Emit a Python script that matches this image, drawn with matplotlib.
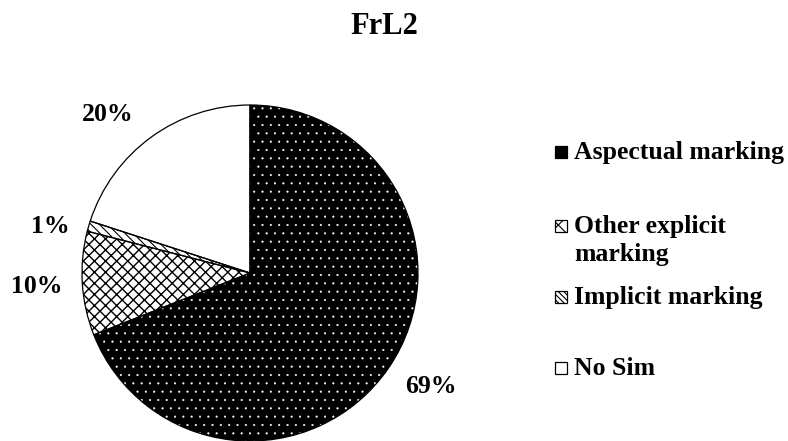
import numpy as np
import matplotlib.pyplot as plt
from matplotlib.patches import Rectangle

# Share of each marking type (FrL2 group)
categories = ["Aspectual marking", "Other explicit\nmarking", "Implicit marking", "No Sim"]
shares = [69, 10, 1, 20]
pct_labels = ["69%", "10%", "1%", "20%"]

# Fill style for each slice
fills = ["black", "white", "white", "white"]
hatches = ["..", "xxx", "\\\\\\\\", ""]
hatch_colors = ["white", "black", "black", "black"]
hatch_widths = [0.3, 1.0, 0.8, 0.8]
key_hatches = ["", "xx", "\\\\\\\\\\\\", ""]

# label placement (radius factor, angle nudge in degrees)
label_dist = [1.27, 1.27, 1.22, 1.27]
label_nudge = [2, 0, 3, 6]

plt.rcParams["font.family"] = ["Liberation Serif", "DejaVu Serif"]
plt.rcParams["font.weight"] = "bold"
plt.rcParams["hatch.linewidth"] = 0.8

fig = plt.figure(figsize=(7.88, 4.41), dpi=100)
ax = fig.add_axes([0, 0, 1, 1])

cx, cy, r = 250, 168, 168

# filled wedges with patterns
wedges, _ = ax.pie(shares, center=(cx, cy), radius=r, startangle=90,
                   counterclock=False)
for w, fc, h, hc, hw in zip(wedges, fills, hatches, hatch_colors, hatch_widths):
    w.set_facecolor(fc)
    w.set_hatch(h)
    w.set_edgecolor(hc)
    w.set_linewidth(0)
    if hasattr(w, "set_hatch_linewidth"):
        w.set_hatch_linewidth(hw)

# black outlines on top
ax.pie(shares, center=(cx, cy), radius=r, startangle=90, counterclock=False,
       wedgeprops=dict(fill=False, edgecolor="black", linewidth=0.9))

# percentage labels outside each slice
for w, txt, d, nd in zip(wedges, pct_labels, label_dist, label_nudge):
    mid = np.deg2rad((w.theta1 + w.theta2) / 2 + nd)
    ax.text(cx + d * r * np.cos(mid), cy + d * r * np.sin(mid), txt,
            ha="center", va="center", fontsize=18.5, fontweight="bold")

# legend drawn by hand: swatch + label per entry
key_x = 555
key_size = 12
key_rows = [441 - 152, 441 - 226, 441 - 297, 441 - 368]
for name, fc, kh, hc, ky in zip(categories, fills, key_hatches, hatch_colors, key_rows):
    sw = Rectangle((key_x, ky - key_size / 2), key_size, key_size,
                   facecolor=fc, hatch=kh, edgecolor="black", linewidth=0.9)
    ax.add_patch(sw)
    ax.text(key_x + key_size + 7, ky + 11, name, ha="left", va="top",
            fontsize=18.5, fontweight="bold", linespacing=1.3)

ax.set_xlim(0, 788)
ax.set_ylim(0, 441)
ax.set_aspect("equal")
ax.axis("off")

fig.text(0.488, 1 - 27 / 441, "FrL2", ha="center", va="center",
         fontsize=22, fontweight="bold")

fig.savefig("out.png", dpi=100)
